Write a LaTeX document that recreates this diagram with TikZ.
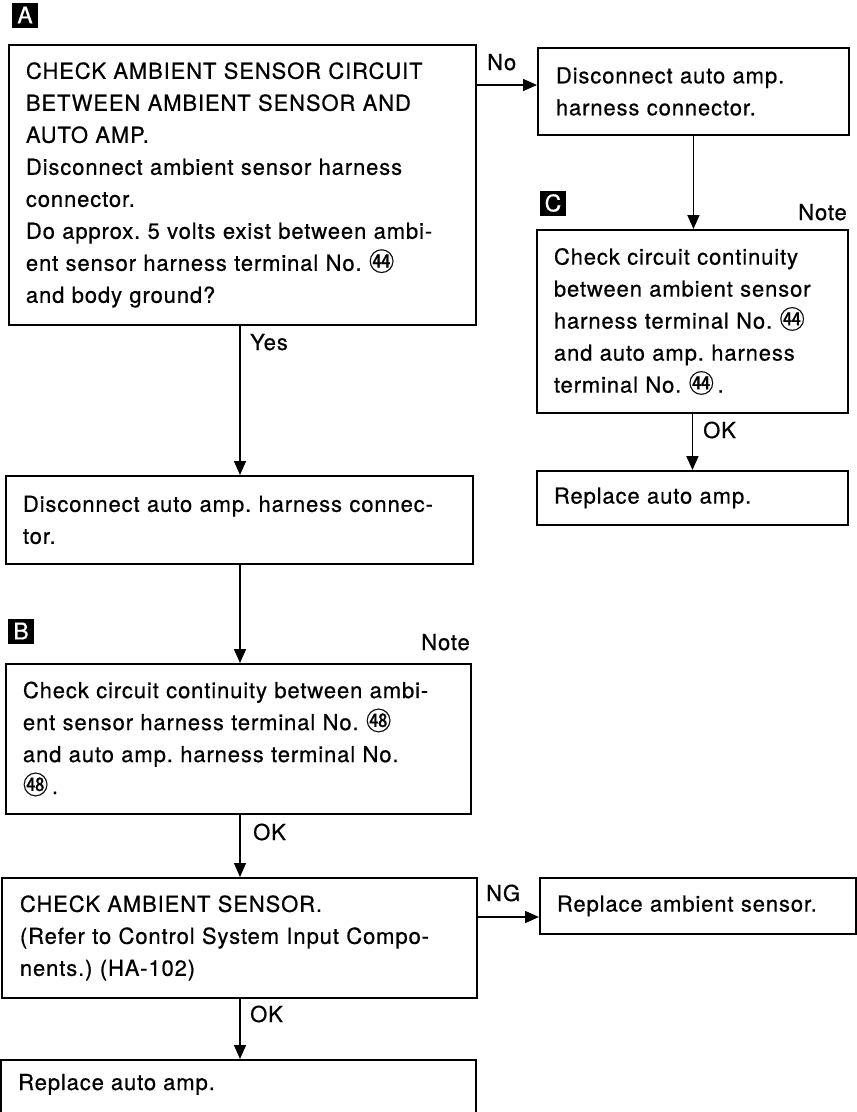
\documentclass[tikz,border=0pt]{standalone}
\usepackage{fontspec}
\setmainfont{TeX Gyre Heros}[LetterSpace=4,FakeBold=0.6]
\newfontfamily\cjk[Scale=1.15,FakeBold=0.6]{Noto Sans CJK JP}
\newcommand{\cn}[1]{{\cjk #1}}
\frenchspacing
\usetikzlibrary{arrows.meta}
\begin{document}
\frenchspacing
\begin{tikzpicture}[x=1pt,y=-1pt,
  box/.style={draw, line width=1.9pt, align=left, inner xsep=17pt, inner ysep=0pt,
    anchor=north west, font=\fontsize{22}{32}\selectfont\frenchspacing},
  arr/.style={line width=1.6pt, -{Triangle[length=14pt,width=12pt]}},
  lbl/.style={font=\fontsize{22}{26}\selectfont, inner sep=0pt},
  tag/.style={fill=black, text=white, minimum width=26pt, minimum height=25pt,
    inner sep=0pt, font=\fontsize{23}{23}\selectfont}]
\useasboundingbox (0,0) rectangle (857,1112);
\clip (0,0) rectangle (857,1112);

% tags
\node[tag] (tA) at (25,15) {A};
\node[tag] (tB) at (21,631) {B};
\node[tag] (tC) at (553,203) {C};

% boxes
\node[box, text width=433pt, minimum width=467pt, minimum height=280pt] (A) at (8,44)
 {CHECK AMBIENT SENSOR CIRCUIT\\
  BETWEEN AMBIENT SENSOR AND\\
  AUTO AMP.\\
  Disconnect ambient sensor harness\\
  connector.\\
  Do approx. 5 volts exist between ambi-\\
  ent sensor harness terminal No.\ \cn{㊹}\\
  and body ground?};
\node[box, inner xsep=18pt, text width=275pt, minimum width=311pt, minimum height=87pt] (D1) at (537,47)
 {Disconnect auto amp.\\ harness connector.};
\node[box, text width=277pt, minimum width=311pt, minimum height=183pt] (C) at (536,229)
 {Check circuit continuity\\
  between ambient sensor\\
  harness terminal No.\ \cn{㊹}\\
  and auto amp. harness\\
  terminal No.\ \cn{㊹}\,.};
\node[box, text width=277pt, minimum width=311pt, minimum height=54pt] (R1) at (536,470)
 {Replace auto amp.};
\node[box, text width=433pt, minimum width=467pt, minimum height=88pt] (D2) at (5,475)
 {Disconnect auto amp. harness connec-\\ tor.};
\node[box, text width=431pt, minimum width=465pt, minimum height=150pt] (B) at (5,663)
 {Check circuit continuity between ambi-\\
  ent sensor harness terminal No.\ \cn{㊽}\\
  and auto amp. harness terminal No.\\
  \cn{㊽}\,.};
\node[box, inner xsep=18pt, text width=439pt, minimum width=475pt, minimum height=120pt] (CAS) at (1,877)
 {CHECK AMBIENT SENSOR.\\
  (Refer to Control System Input Compo-\\
  nents.) (HA-102)};
\node[box, text width=282pt, minimum width=316pt, minimum height=56pt] (RAS) at (539,877)
 {Replace ambient sensor.};
\node[box, minimum width=475pt, minimum height=100pt] (F) at (0,1059) {};
\node[lbl, anchor=base west] (Ft) at (18,1090) {Replace auto amp.};

% connectors
\coordinate (yno) at (0,85);
\coordinate (yng) at (0,917);
\coordinate (xl) at (240,0);
\draw[arr] (A.east |- yno) -- (D1.west |- yno);
\draw[arr] (D1.south) -- (D1.south |- C.north);
\draw[arr] (C.south) -- (C.south |- R1.north);
\draw[arr] (A.south -| xl) -- (D2.north -| xl);
\draw[arr] (D2.south -| xl) -- (B.north -| xl);
\draw[arr] (B.south -| xl) -- (CAS.north -| xl);
\draw[arr] (CAS.east |- yng) -- (RAS.west |- yng);
\draw[arr] (CAS.south -| xl) -- (F.north -| xl);

% labels
\node[lbl, anchor=base west] (lNo) at (487,70) {No};
\node[lbl, anchor=base west] (lYes) at (250,350) {Yes};
\node[lbl, anchor=base west] (lOK1) at (703,438) {OK};
\node[lbl, anchor=base west] (lOK2) at (253,840) {OK};
\node[lbl, anchor=base west] (lNG) at (486,901) {NG};
\node[lbl, anchor=base west] (lOK3) at (250,1022) {OK};
\node[lbl, anchor=base east] (nC) at (847,220) {Note};
\node[lbl, anchor=base east] (nB) at (470,650) {Note};
\end{tikzpicture}
\end{document}
